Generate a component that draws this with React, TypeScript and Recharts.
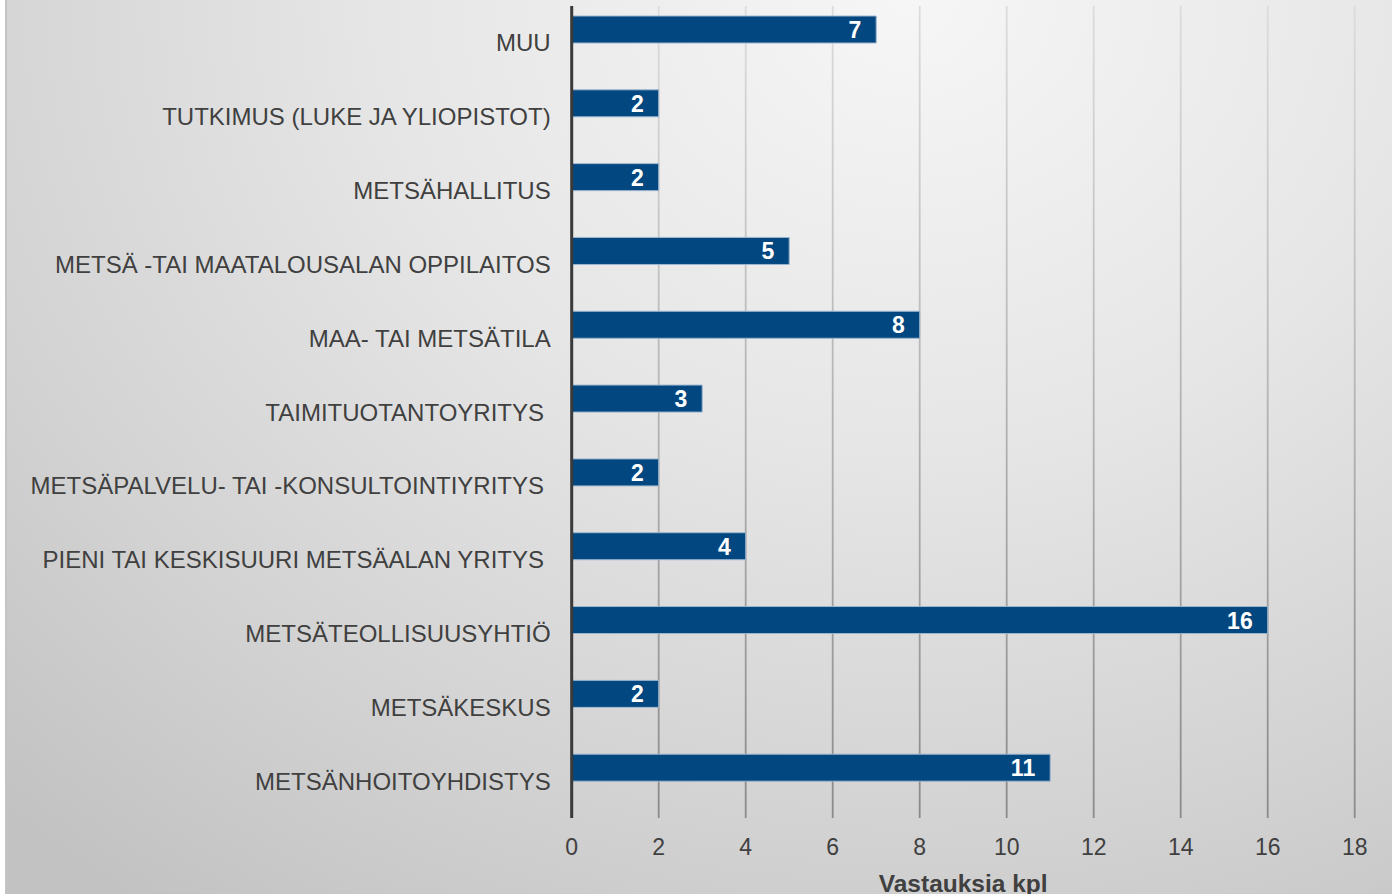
import React from 'react';
import { BarChart, Bar, XAxis, YAxis, CartesianGrid, LabelList } from 'recharts';

const categories = [
  'MUU',
  'TUTKIMUS (LUKE JA YLIOPISTOT)',
  'METSÄHALLITUS',
  'METSÄ -TAI MAATALOUSALAN OPPILAITOS',
  'MAA- TAI METSÄTILA',
  'TAIMITUOTANTOYRITYS\u00a0',
  'METSÄPALVELU- TAI -KONSULTOINTIYRITYS\u00a0',
  'PIENI TAI KESKISUURI METSÄALAN YRITYS\u00a0',
  'METSÄTEOLLISUUSYHTIÖ',
  'METSÄKESKUS',
  'METSÄNHOITOYHDISTYS',
];
const responses = [7, 2, 2, 5, 8, 3, 2, 4, 16, 2, 11];
const xTicks = [0, 2, 4, 6, 8, 10, 12, 14, 16, 18];
const xTitle = 'Vastauksia kpl';

const data = categories.map((name, i) => ({ name, value: responses[i], blank: null }));

const FONT = '"Liberation Sans", Arial, sans-serif';

const ValueLabel = (props: any) => {
  const { x, y, width, height, value } = props;
  if (value == null) return null;
  return (
    <text
      x={x + width - 15}
      y={y + height / 2 + 8.5}
      textAnchor="end"
      fill="#ffffff"
      fontWeight="bold"
      fontSize={23}
      fontFamily={FONT}
    >
      {value}
    </text>
  );
};

export default function App() {
  return (
    <div style={{ position: 'absolute', left: 0, top: 0, width: 1392, height: 894, background: '#ffffff', overflow: 'hidden' }}>
      <div
        style={{
          position: 'absolute',
          left: 5,
          top: 0,
          width: 1387,
          height: 894,
          borderLeft: '2px solid #c4c4c4',
          boxSizing: 'border-box',
          background: 'radial-gradient(ellipse 95% 125% at 65% 0%, #f6f6f6 0%, #e6e6e6 40%, #d2d2d2 75%, #c2c2c2 100%)',
        }}
      />
      <div style={{ position: 'absolute', left: 0, top: 0 }}>
        <BarChart
          width={1392}
          height={894}
          data={data}
          layout="vertical"
          margin={{ top: 6, right: 37.3, bottom: 0, left: 0 }}
          barGap={0}
        >
          <defs>
            <linearGradient id="gridGrad" gradientUnits="userSpaceOnUse" x1="0" y1="6" x2="0" y2="818">
              <stop offset="0%" stopColor="#dcdcdc" />
              <stop offset="100%" stopColor="#8a8a8a" />
            </linearGradient>
          </defs>
          <CartesianGrid horizontal={false} stroke="url(#gridGrad)" strokeWidth={1.8} />
          <XAxis
            type="number"
            domain={[0, 18]}
            ticks={xTicks}
            axisLine={false}
            tickLine={false}
            tickSize={0}
            tickMargin={21}
            height={76}
            interval={0}
            tick={{ fontSize: 23, fill: '#404040', fontFamily: FONT }}
            label={{
              value: xTitle,
              position: 'insideBottom',
              offset: 2,
              fontSize: 24.5,
              fontWeight: 'bold',
              fill: '#404040',
              fontFamily: FONT,
            }}
          />
          <YAxis
            type="category"
            dataKey="name"
            width={571.7}
            axisLine={{ stroke: '#3a3a3a', strokeWidth: 3 }}
            tickLine={false}
            tickSize={0}
            tickMargin={21}
            interval={0}
            tick={{ fontSize: 24, fill: '#404040', fontFamily: FONT }}
          />
          <Bar dataKey="value" barSize={27} fill="#02477f" stroke="#9db6d0" strokeWidth={1} isAnimationActive={false}>
            <LabelList dataKey="value" content={ValueLabel} />
          </Bar>
          <Bar dataKey="blank" barSize={27} fill="#7f7f7f" isAnimationActive={false} />
        </BarChart>
      </div>
    </div>
  );
}
